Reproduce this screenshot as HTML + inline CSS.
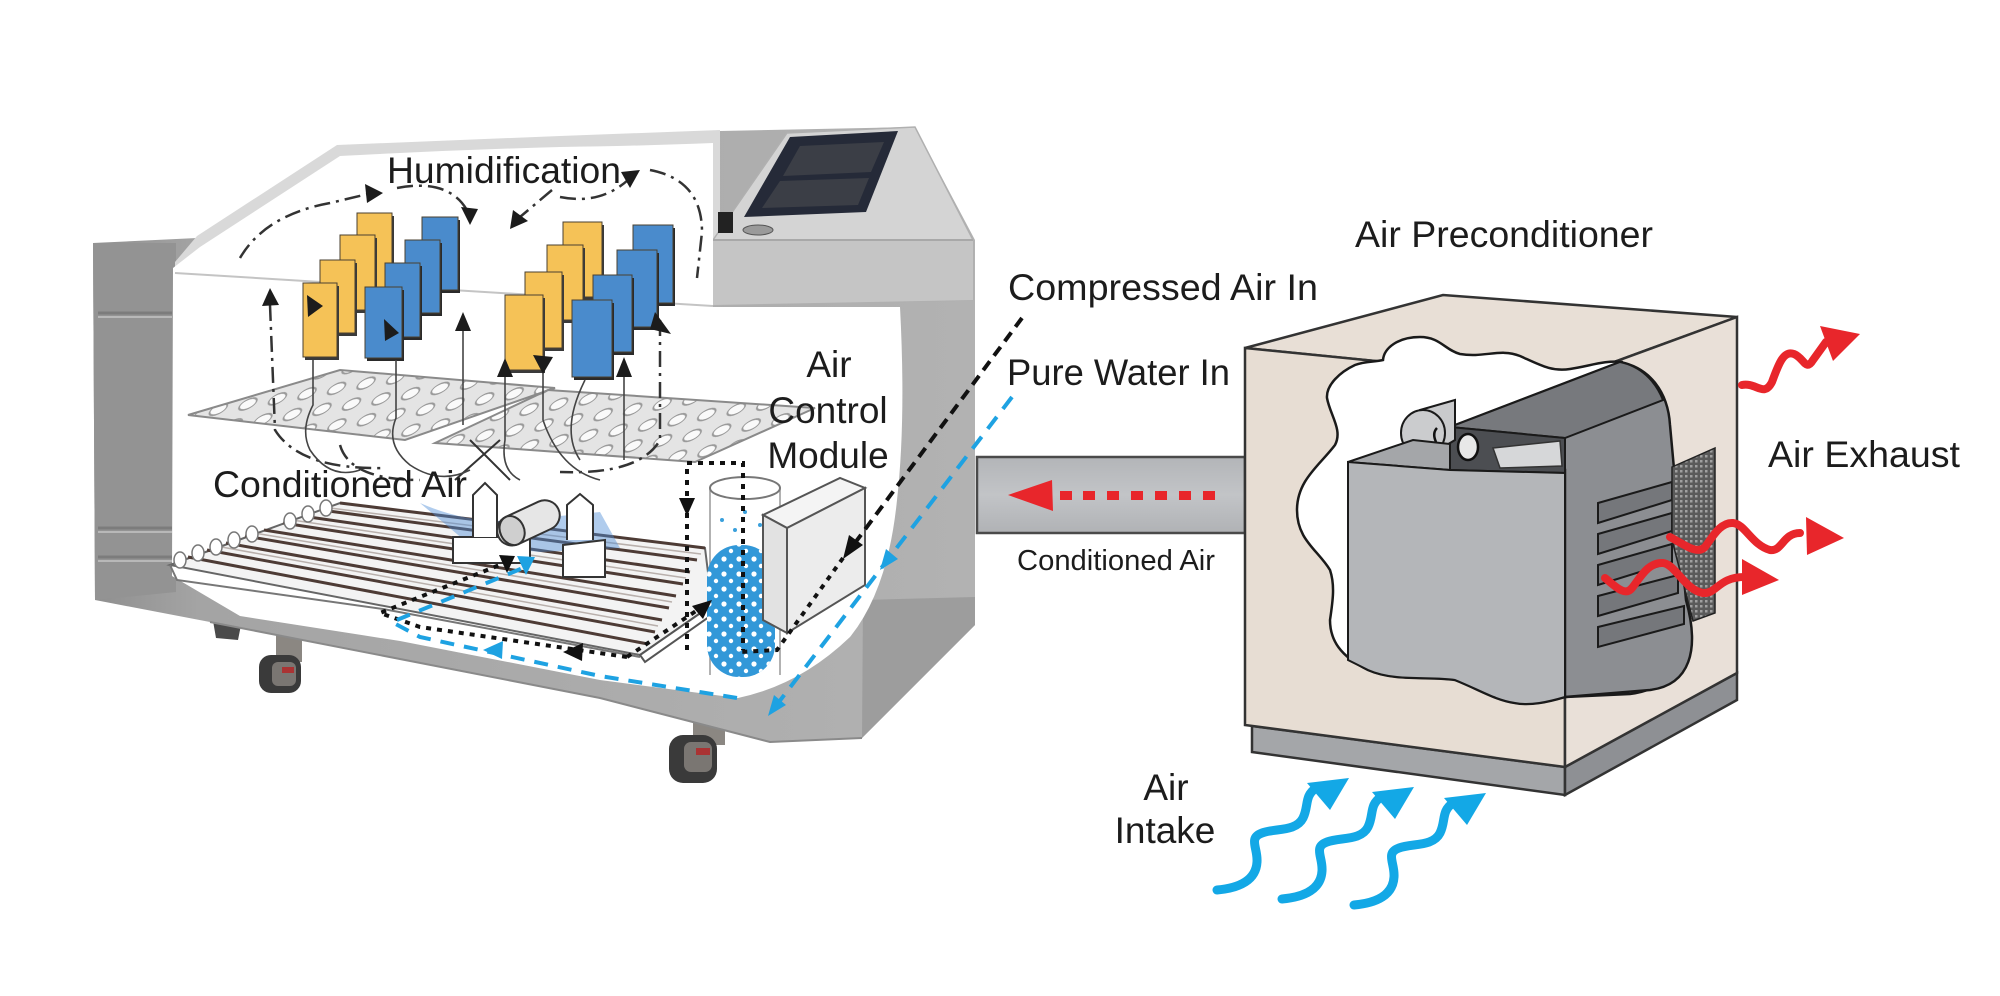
<!DOCTYPE html>
<html><head><meta charset="utf-8"><style>
html,body{margin:0;padding:0;background:#fff;}
svg{display:block;}
text{font-family:"Liberation Sans",Arial,sans-serif;fill:#1c1c1c;}
</style></head><body>
<svg width="2000" height="996" viewBox="0 0 2000 996" xmlns="http://www.w3.org/2000/svg">
<defs>
<linearGradient id="body" x1="0" y1="0" x2="1" y2="0">
<stop offset="0" stop-color="#8f8f8f"/><stop offset="0.12" stop-color="#a4a4a4"/><stop offset="1" stop-color="#b2b2b2"/>
</linearGradient>
<linearGradient id="duct" x1="0" y1="0" x2="0" y2="1">
<stop offset="0" stop-color="#b3b5b8"/><stop offset="0.5" stop-color="#c2c4c7"/><stop offset="1" stop-color="#b0b2b5"/>
</linearGradient>
<pattern id="holes" width="30" height="18" patternUnits="userSpaceOnUse" patternTransform="rotate(-10) skewX(-45)">
<ellipse cx="15" cy="9" rx="8" ry="5" fill="#fafafa" stroke="#9a9a9a" stroke-width="1.5"/>
</pattern>
<pattern id="dots" width="15" height="15" patternUnits="userSpaceOnUse">
<circle cx="4" cy="4" r="2.6" fill="#fff"/><circle cx="11" cy="11" r="2.2" fill="#fff"/>
</pattern>
<pattern id="mesh" width="5" height="5" patternUnits="userSpaceOnUse">
<rect width="5" height="5" fill="#5a5a5a"/><rect width="2.5" height="2.5" fill="#a0a0a0"/>
</pattern>
</defs>

<!-- ============ CHAMBER ============ -->
<!-- legs / wheels -->
<path d="M212,615 L242,620 L238,640 L216,638 Z" fill="#4a4a4a"/>
<rect x="276" y="630" width="26" height="32" fill="#8b8782"/>
<rect x="259" y="655" width="42" height="38" rx="12" fill="#3a3a3a"/>
<rect x="272" y="662" width="24" height="24" rx="6" fill="#7a7672"/>
<rect x="282" y="667" width="12" height="6" fill="#a33"/>
<rect x="693" y="710" width="32" height="35" fill="#8b8782"/>
<rect x="669" y="735" width="48" height="48" rx="14" fill="#3a3a3a"/>
<rect x="684" y="742" width="28" height="30" rx="7" fill="#7a7672"/>
<rect x="696" y="748" width="14" height="7" fill="#a33"/>

<!-- body -->
<path d="M93,243 L197,238 L337,147 L560,138 L720,131 L915,127 L975,240 L975,625 L862,738 L770,742 L600,698 L210,622 L95,600 Z" fill="url(#body)"/>
<path d="M93,243 L176,243 L176,592 L95,600 Z" fill="#939393"/>
<path d="M98,313 L172,313 M98,528 L172,528 M98,557 L172,557" stroke="#7c7c7c" stroke-width="3"/>
<path d="M98,317 L172,317 M98,532 L172,532 M98,561 L172,561" stroke="#b8b8b8" stroke-width="2"/>
<path d="M863,600 L975,597 L975,625 L862,738 Z" fill="#9d9d9d"/>
<path d="M210,622 L600,698 L770,742 L862,738" fill="none" stroke="#8a8a8a" stroke-width="2"/>

<!-- lid -->
<path d="M175,262 L197,236 L337,145 L560,136 L720,130 L720,305 L175,305 Z" fill="#d9d9d9"/>

<!-- control housing -->
<path d="M713,240 L787,133 L915,127 L973,240 L973,300 L713,305 Z" fill="#d4d4d4" stroke="#b0b0b0" stroke-width="1.5"/>
<path d="M713,240 L973,240 L973,300 L713,305 Z" fill="#c5c5c5"/>
<path d="M713,240 L973,240" stroke="#a8a8a8" stroke-width="2"/>
<path d="M790,137 L898,131 L866,212 L744,217 Z" fill="#252a38"/>
<path d="M800,146 L884,142 L871,172 L783,176 Z" fill="#3b3e46"/>
<path d="M780,181 L869,178 L858,205 L762,208 Z" fill="#3b3e46"/>
<rect x="718" y="212" width="15" height="21" fill="#222"/>
<ellipse cx="758" cy="230" rx="15" ry="5" fill="#9a9a9a" stroke="#555"/>

<!-- white interior cut-out -->
<path d="M173,268 L200,247 L340,156 Q450,150 560,147 Q640,146 713,143 L713,307 L900,307 Q906,420 897,500 Q888,590 850,637 Q800,685 738,698 L600,680 L400,641 L240,616 L172,576 Z" fill="#fff"/>
<path d="M175,273 L713,306" stroke="#c4c4c4" stroke-width="2"/>

<!-- trays -->
<path d="M188,415 L340,370 L555,388 L405,440 Z" fill="#e4e4e4"/>
<path d="M188,415 L340,370 L555,388 L405,440 Z" fill="url(#holes)" stroke="#8a8a8a" stroke-width="2"/>
<path d="M435,443 L548,390 L815,408 L695,462 Z" fill="#e4e4e4"/>
<path d="M435,443 L548,390 L815,408 L695,462 Z" fill="url(#holes)" stroke="#8a8a8a" stroke-width="2"/>

<!-- rack -->
<path d="M340,503 L705,548 L712,605 L640,655 L170,565 Z" fill="#f3f3f3" stroke="#666" stroke-width="2"/>
<g stroke="#4d3b35" stroke-width="3" fill="none">
<path d="M340,503 L705,548"/><path d="M321,510 L697,560"/><path d="M302,516 L690,572"/>
<path d="M283,523 L683,584"/><path d="M264,530 L676,596"/><path d="M245,536 L669,608"/>
<path d="M226,543 L662,620"/><path d="M207,550 L655,632"/><path d="M188,557 L648,644"/>
</g>
<g stroke="#b9b0ac" stroke-width="1.5" fill="none">
<path d="M330,508 L701,554"/><path d="M292,520 L686,578"/><path d="M254,533 L672,602"/><path d="M216,546 L658,626"/>
</g>
<g fill="#fff" stroke="#777" stroke-width="1.5">
<ellipse cx="180" cy="560" rx="6" ry="8"/><ellipse cx="198" cy="553" rx="6" ry="8"/><ellipse cx="216" cy="547" rx="6" ry="8"/>
<ellipse cx="234" cy="540" rx="6" ry="8"/><ellipse cx="252" cy="534" rx="6" ry="8"/><ellipse cx="290" cy="521" rx="6" ry="8"/>
<ellipse cx="308" cy="514" rx="6" ry="8"/><ellipse cx="326" cy="508" rx="6" ry="8"/>
</g>
<path d="M170,565 L177,580 L383,609 L640,657" fill="none" stroke="#777" stroke-width="2"/>
<path d="M640,655 L712,605 L716,612 L645,662 Z" fill="#fff" stroke="#555" stroke-width="2"/>

<!-- nozzle assembly -->
<path d="M420,503 Q470,525 520,520 L600,512 L620,548 L540,552 L470,545 Z" fill="#4f8fd6" opacity="0.45"/>
<path d="M453,537 L530,537 L530,563 L453,563 Z" fill="#fff" stroke="#333" stroke-width="2"/>
<path d="M563,545 L605,540 L605,577 L563,577 Z" fill="#fff" stroke="#333" stroke-width="2"/>
<path d="M473,537 L473,495 L485,483 L497,495 L497,537" fill="#fff" stroke="#333" stroke-width="2"/>
<path d="M567,540 L567,505 L580,494 L593,505 L593,540" fill="#fff" stroke="#333" stroke-width="2"/>
<g transform="rotate(-25 528 522)">
<rect x="495" y="508" width="66" height="30" rx="15" fill="#e6e6e6" stroke="#333" stroke-width="2"/>
<ellipse cx="510" cy="523" rx="12" ry="15" fill="#cfcfcf" stroke="#333" stroke-width="2"/>
</g>
<path d="M455,480 L500,440 M470,440 L510,480" stroke="#333" stroke-width="2"/>

<!-- water cylinder -->
<path d="M710,487 L710,675 M780,487 L780,675" stroke="#999" stroke-width="1.5"/>
<ellipse cx="745" cy="488" rx="35" ry="11" fill="none" stroke="#777" stroke-width="2"/>
<rect x="707" y="545" width="68" height="132" rx="32" fill="#3298d8"/>
<rect x="707" y="545" width="68" height="132" rx="32" fill="url(#dots)"/>
<g fill="#3aa0dc"><circle cx="722" cy="520" r="2"/><circle cx="735" cy="530" r="2"/><circle cx="760" cy="525" r="2"/><circle cx="768" cy="535" r="2"/><circle cx="745" cy="512" r="2"/></g>

<!-- module box -->
<path d="M763,515 L840,478 L865,488 L787,528 Z" fill="#f4f4f4" stroke="#555" stroke-width="2"/>
<path d="M763,515 L787,528 L787,633 L763,620 Z" fill="#e2e2e2" stroke="#555" stroke-width="2"/>
<path d="M787,528 L865,488 L865,585 L787,633 Z" fill="#ececec" stroke="#555" stroke-width="2"/>

<!-- panels group 1 -->
<g stroke="#4a4030" stroke-width="1">
<rect x="359" y="216" width="35" height="74" fill="#3a3a3a" stroke="none"/><rect x="357" y="213" width="35" height="74" fill="#f5c257"/>
<rect x="342" y="238" width="35" height="75" fill="#3a3a3a" stroke="none"/><rect x="340" y="235" width="35" height="75" fill="#f5c257"/>
<rect x="322" y="263" width="35" height="73" fill="#3a3a3a" stroke="none"/><rect x="320" y="260" width="35" height="73" fill="#f5c257"/>
<rect x="305" y="286" width="34" height="74" fill="#3a3a3a" stroke="none"/><rect x="303" y="283" width="34" height="74" fill="#f5c257"/>
<rect x="424" y="220" width="36" height="73" fill="#2a2a2a" stroke="none"/><rect x="422" y="217" width="36" height="73" fill="#4a8bcc"/>
<rect x="407" y="243" width="35" height="73" fill="#2a2a2a" stroke="none"/><rect x="405" y="240" width="35" height="73" fill="#4a8bcc"/>
<rect x="387" y="266" width="35" height="74" fill="#2a2a2a" stroke="none"/><rect x="385" y="263" width="35" height="74" fill="#4a8bcc"/>
<rect x="367" y="290" width="37" height="71" fill="#2a2a2a" stroke="none"/><rect x="365" y="287" width="37" height="71" fill="#4a8bcc"/>
<!-- group 2 -->
<rect x="565" y="225" width="39" height="75" fill="#3a3a3a" stroke="none"/><rect x="563" y="222" width="39" height="75" fill="#f5c257"/>
<rect x="549" y="248" width="36" height="75" fill="#3a3a3a" stroke="none"/><rect x="547" y="245" width="36" height="75" fill="#f5c257"/>
<rect x="527" y="275" width="37" height="76" fill="#3a3a3a" stroke="none"/><rect x="525" y="272" width="37" height="76" fill="#f5c257"/>
<rect x="507" y="298" width="38" height="75" fill="#3a3a3a" stroke="none"/><rect x="505" y="295" width="38" height="75" fill="#f5c257"/>
<rect x="635" y="228" width="40" height="78" fill="#2a2a2a" stroke="none"/><rect x="633" y="225" width="40" height="78" fill="#4a8bcc"/>
<rect x="619" y="253" width="40" height="77" fill="#2a2a2a" stroke="none"/><rect x="617" y="250" width="40" height="77" fill="#4a8bcc"/>
<rect x="595" y="278" width="39" height="77" fill="#2a2a2a" stroke="none"/><rect x="593" y="275" width="39" height="77" fill="#4a8bcc"/>
<rect x="574" y="303" width="40" height="77" fill="#2a2a2a" stroke="none"/><rect x="572" y="300" width="40" height="77" fill="#4a8bcc"/>
</g>

<!-- circulation lines -->
<g fill="none" stroke="#333" stroke-width="2.5" stroke-dasharray="16 6 3 6">
<path d="M240,258 Q265,215 330,203 L368,194"/>
<path d="M397,188 Q450,178 468,212"/>
<path d="M552,190 L520,217"/>
<path d="M560,197 Q600,205 628,180"/>
<path d="M650,170 Q702,180 702,232 L697,278"/>
<path d="M270,305 L275,430 Q300,470 385,468"/>
<path d="M660,320 L660,440 Q640,475 560,472"/>
<path d="M340,445 Q350,480 420,480"/>
</g>
<g fill="none" stroke="#444" stroke-width="1.6">
<path d="M313,360 L313,405 Q300,430 310,450 Q330,480 360,470"/>
<path d="M396,360 L396,418 Q385,445 410,465 Q440,485 470,470"/>
<path d="M463,330 L463,425"/>
<path d="M505,375 L505,440 Q500,470 520,480"/>
<path d="M543,372 L543,420 Q560,470 600,480"/>
<path d="M624,375 L624,460"/>
<path d="M585,380 Q560,430 580,460"/>
</g>
<g fill="#1c1c1c">
<polygon points="383,193 365,184 367,203"/>
<polygon points="470,225 461,207 478,209"/>
<polygon points="510,229 513,210 528,221"/>
<polygon points="640,170 621,172 630,188"/>
<polygon points="270,288 262,306 279,305"/>
<polygon points="323,306 307,295 308,317"/>
<polygon points="399,333 384,319 385,341"/>
<polygon points="463,312 455,331 471,331"/>
<polygon points="505,358 497,377 513,377"/>
<polygon points="543,374 533,355 553,357"/>
<polygon points="624,357 616,377 632,377"/>
<polygon points="671,334 655,312 650,329"/>
</g>

<!-- inner dotted/dashed paths -->
<g fill="none" stroke="#111" stroke-width="4" stroke-dasharray="5 6">
<path d="M627,657 L420,627 L380,613 L507,562"/>
<path d="M627,657 L705,605"/>
<path d="M687,650 L687,463 L743,463 L743,650"/>
<path d="M843,558 L777,650 L740,652"/>
</g>
<path d="M1022,318 L849,551" fill="none" stroke="#111" stroke-width="4" stroke-dasharray="11 7"/>
<g fill="#111">
<polygon points="843,559 863,545 849,535"/>
<polygon points="563,652 583,643 582,661"/>
<polygon points="507,573 499,555 515,556"/>
<polygon points="687,516 679,498 695,498"/>
<polygon points="712,600 692,606 703,619"/>
</g>
<g fill="none" stroke="#1ea2e2" stroke-width="4">
<path d="M1012,397 L772,711" stroke-dasharray="15 10"/>
<path d="M737,698 L600,676 L420,637 L392,622 L523,568" stroke-dasharray="14 10"/>
</g>
<g fill="#1ea2e2">
<polygon points="880,570 898,559 886,549"/>
<polygon points="768,716 786,705 774,695"/>
<polygon points="483,650 503,641 502,659"/>
<polygon points="526,575 517,556 535,557"/>
</g>

<!-- chamber labels -->
<text x="387" y="183" font-size="37" textLength="234" lengthAdjust="spacingAndGlyphs">Humidification</text>
<text x="213" y="497" font-size="37" textLength="254" lengthAdjust="spacingAndGlyphs">Conditioned Air</text>
<text x="829" y="377" font-size="37" text-anchor="middle">Air</text>
<text x="828" y="423" font-size="37" text-anchor="middle">Control</text>
<text x="828" y="468" font-size="37" text-anchor="middle">Module</text>

<!-- ============ DUCT ============ -->
<rect x="977" y="457" width="268" height="76" fill="url(#duct)" stroke="#4a4a4a" stroke-width="2.5"/>
<polygon points="1008,495 1052,480 1053,511" fill="#e8262b"/>
<g fill="#e8262b">
<rect x="1060" y="491" width="12" height="9"/><rect x="1083" y="491" width="12" height="9"/><rect x="1107" y="491" width="12" height="9"/>
<rect x="1131" y="491" width="12" height="9"/><rect x="1155" y="491" width="12" height="9"/><rect x="1179" y="491" width="12" height="9"/>
<rect x="1203" y="491" width="12" height="9"/>
</g>
<text x="1017" y="570" font-size="29" textLength="198" lengthAdjust="spacingAndGlyphs">Conditioned Air</text>

<text x="1008" y="300" font-size="37" textLength="310" lengthAdjust="spacingAndGlyphs">Compressed Air In</text>
<text x="1007" y="385" font-size="37" textLength="223" lengthAdjust="spacingAndGlyphs">Pure Water In</text>

<!-- ============ AIR PRECONDITIONER BOX ============ -->
<!-- base -->
<path d="M1252,726 L1565,767 L1565,795 L1252,752 Z" fill="#a4a6a9" stroke="#333" stroke-width="2.5"/>
<path d="M1565,767 L1737,673 L1737,700 L1565,795 Z" fill="#8e9094" stroke="#333" stroke-width="2.5"/>
<!-- faces -->
<path d="M1245,348 L1443,295 L1737,317 L1565,380 Z" fill="#e8dfd6" stroke="#333" stroke-width="2.5"/>
<path d="M1245,348 L1565,380 L1565,767 L1245,725 Z" fill="#e7ddd3" stroke="#333" stroke-width="2.5"/>
<path d="M1565,380 L1737,317 L1737,673 L1565,767 Z" fill="#e9e0d8" stroke="#333" stroke-width="2.5"/>
<!-- cut-away -->
<path d="M1383,360 C1384,348 1398,337 1420,337 C1440,337 1445,350 1460,354 C1485,358 1500,348 1520,356 C1540,365 1552,372 1570,369 C1590,366 1605,360 1622,362 L1690,620 C1690,665 1665,690 1630,694 L1565,697 C1548,702 1530,706 1515,703 C1495,700 1480,690 1455,680 C1430,676 1395,682 1368,670 C1340,656 1330,640 1330,620 C1333,600 1335,585 1330,570 C1318,550 1297,540 1297,510 C1297,480 1320,465 1335,445 C1343,430 1330,415 1327,398 C1326,385 1340,372 1355,365 C1365,361 1375,362 1383,360 Z" fill="#fff" stroke="#1a1a1a" stroke-width="2.5"/>
<!-- blower: right/hood mass -->
<path d="M1450,427 L1620,362 C1650,368 1668,392 1670,425 L1686,600 C1700,650 1690,685 1650,690 L1565,697 L1565,470 L1450,470 Z" fill="#8c8e92" stroke="#1a1a1a" stroke-width="2.5"/>
<path d="M1450,427 L1620,362 C1640,366 1655,380 1663,400 L1565,438 Z" fill="#77797d" stroke="#1a1a1a" stroke-width="2"/>
<path d="M1450,427 L1565,438 L1565,473 L1450,470 Z" fill="#4c4e52" stroke="#1a1a1a" stroke-width="2"/>
<path d="M1493,448 L1560,441 L1562,466 L1500,468 Z" fill="#d6d7d9" stroke="#333" stroke-width="1.5"/>
<ellipse cx="1468" cy="447" rx="10" ry="13" fill="#e8e8e8" stroke="#111" stroke-width="2.5"/>
<!-- cylinder end -->
<path d="M1420,410 L1455,400 L1455,440 L1425,458 Z" fill="#c9cacc" stroke="#1a1a1a" stroke-width="2"/>
<ellipse cx="1423" cy="433" rx="22" ry="23" fill="#cbccce" stroke="#1a1a1a" stroke-width="2"/>
<path d="M1437,428 Q1432,433 1436,442" fill="none" stroke="#111" stroke-width="2.5"/>
<!-- front box top face -->
<path d="M1348,462 L1413,440 L1450,444 L1450,470 Z" fill="#a4a6a9" stroke="#1a1a1a" stroke-width="2"/>
<!-- front face -->
<path d="M1348,462 L1450,470 L1565,473 L1565,697 C1548,702 1530,706 1515,703 C1495,700 1480,690 1455,680 C1430,676 1395,682 1368,670 L1348,660 Z" fill="#b4b6b9" stroke="#1a1a1a" stroke-width="2"/>
<!-- louvers -->
<g fill="#75777b" stroke="#1a1a1a" stroke-width="2">
<path d="M1598,503 L1672,482 L1672,500 L1598,523 Z"/>
<path d="M1598,534 L1672,513 L1672,531 L1598,554 Z"/>
<path d="M1598,565 L1672,544 L1672,562 L1598,585 Z"/>
<path d="M1598,596 L1678,575 L1678,593 L1598,616 Z"/>
<path d="M1598,627 L1684,606 L1684,624 L1598,647 Z"/>
</g>
<!-- mesh -->
<path d="M1672,467 L1715,448 L1715,613 L1693,621 L1672,540 Z" fill="url(#mesh)" stroke="#222" stroke-width="1.5"/>

<!-- red exhaust -->
<g fill="none" stroke="#e8262b" stroke-width="8" stroke-linecap="round">
<path d="M1742,385 C1756,382 1764,398 1772,382 C1778,366 1783,350 1794,354 C1804,358 1806,372 1813,360 L1826,342"/>
<path d="M1670,537 C1685,545 1697,555 1705,547 C1712,538 1720,522 1733,523 C1745,524 1752,545 1770,550 C1782,552 1783,533 1800,533"/>
<path d="M1605,578 C1615,586 1625,597 1632,588 C1640,578 1648,562 1663,563 C1675,564 1685,590 1703,593 C1717,594 1718,577 1745,577"/>
</g>
<g fill="#e8262b">
<polygon points="1860,334 1820,326 1833,361"/>
<polygon points="1844,538 1806,517 1807,555"/>
<polygon points="1779,580 1742,559 1742,595"/>
</g>

<!-- blue intake -->
<g fill="none" stroke="#13a8e6" stroke-width="9" stroke-linecap="round">
<path d="M1217,890 C1240,888 1256,880 1257,862 C1258,848 1248,838 1262,833 C1275,828 1296,832 1303,818 C1309,806 1304,796 1316,788"/>
<path d="M1282,899 C1305,897 1321,889 1322,871 C1323,857 1313,847 1327,842 C1340,837 1361,841 1368,827 C1374,815 1369,805 1381,797"/>
<path d="M1354,905 C1377,903 1393,895 1394,877 C1395,863 1385,853 1399,848 C1412,843 1433,847 1440,833 C1446,821 1441,811 1453,803"/>
</g>
<g fill="#13a8e6">
<polygon points="1349,778 1307,783 1330,810"/>
<polygon points="1414,787 1372,792 1395,819"/>
<polygon points="1486,793 1444,798 1467,825"/>
</g>

<!-- right labels -->
<text x="1355" y="247" font-size="37" textLength="298" lengthAdjust="spacingAndGlyphs">Air Preconditioner</text>
<text x="1768" y="467" font-size="37" textLength="192" lengthAdjust="spacingAndGlyphs">Air Exhaust</text>
<text x="1166" y="800" font-size="37" text-anchor="middle">Air</text>
<text x="1165" y="843" font-size="37" text-anchor="middle">Intake</text>
</svg>
</body></html>
